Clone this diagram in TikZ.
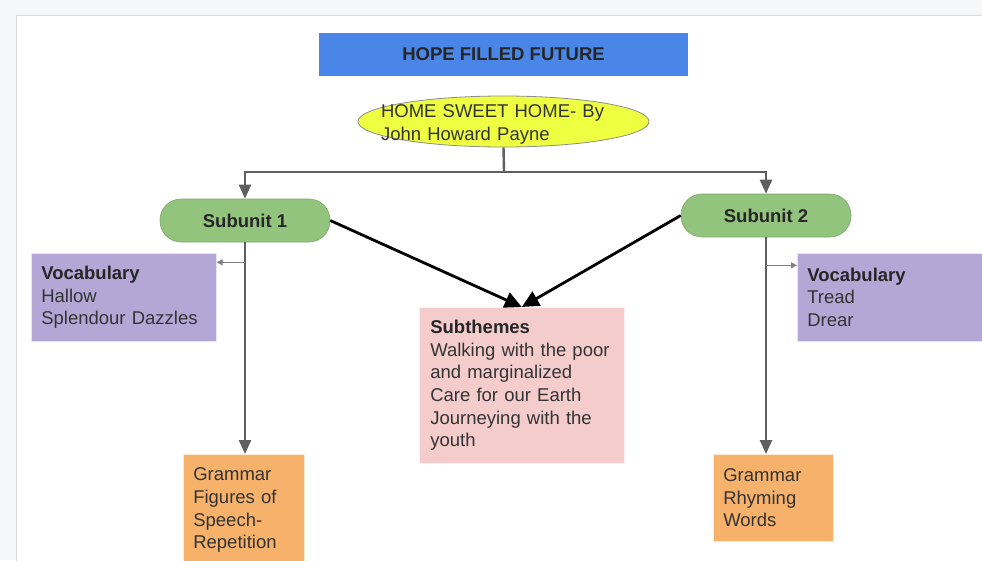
\documentclass[tikz,border=0pt]{standalone}
\usepackage{fontspec}
\setmainfont{Liberation Sans}
\usetikzlibrary{arrows.meta,shapes.geometric}

\definecolor{pagebg}{HTML}{F6F7F9}
\definecolor{pageedge}{HTML}{D9DBDF}
\definecolor{titleblue}{HTML}{4A86E8}
\definecolor{ovalyellow}{HTML}{EEFF41}
\definecolor{pillgreen}{HTML}{93C47D}
\definecolor{lavender}{HTML}{B4A7D6}
\definecolor{rosepink}{HTML}{F4CCCC}
\definecolor{apricot}{HTML}{F6B26B}
\definecolor{linegray}{HTML}{5F5F5F}
\definecolor{textgray}{HTML}{333333}

\begin{document}
\begin{tikzpicture}[x=1pt,y=-1pt,
  every node/.style={font=\fontsize{18.5pt}{22.7pt}\selectfont, text=textgray},
  titlebox/.style={rectangle, fill=titleblue, minimum width=369pt, minimum height=43pt,
    inner sep=0pt, font=\fontsize{18.5pt}{22pt}\selectfont\bfseries, text=black!85},
  oval/.style={ellipse, fill=ovalyellow, draw=black!45, line width=0.8pt,
    minimum width=291pt, minimum height=51pt, inner sep=0pt},
  plaintext/.style={inner sep=0pt, align=left},
  pill/.style={rectangle, rounded corners=21pt, fill=pillgreen, draw=pillgreen!85!black,
    line width=0.6pt, minimum width=170pt, minimum height=43pt, inner sep=0pt,
    font=\fontsize{18.5pt}{22.7pt}\selectfont\bfseries, text=black!85},
  infobox/.style={rectangle, anchor=north west, align=left, inner ysep=0pt,
    inner xsep=10pt, draw=white!70!#1, line width=0.6pt, fill=#1},
  grayline/.style={draw=linegray, line width=2.4pt},
  grayarrow/.style={grayline, -{Triangle[length=14pt,width=12pt]}},
  blackarrow/.style={draw=black, line width=2.8pt, -{Triangle[length=17pt,width=16pt]}},
  thinarrow/.style={draw=gray, line width=1.2pt, -{Triangle[length=6pt,width=6pt]}}
]
\useasboundingbox (0,0) rectangle (982,560);
\clip (0,0) rectangle (982,560);

% canvas and page sheet
\fill[pagebg] (0,0) rectangle (982,560);
\draw[pageedge, fill=white, line width=1pt] (16,15) rectangle (1000,590);

% title and poem
\node[titlebox] (title) at (503.5,54.5) {HOPE FILLED FUTURE};
\node[oval] (home) at (503.5,121.5) {};
\node[plaintext, text width=245pt, yshift=-3pt] (hometext) at (home.center) {HOME SWEET HOME- By\\John Howard Payne};

% subunits
\node[pill] (sub1) at (245,220.5) {Subunit 1};
\node[pill] (sub2) at (766,215.5) {Subunit 2};

% content boxes
\node[infobox=lavender, minimum width=185pt, minimum height=88pt, text width=165pt] (voc1) at (31,253)
  {\textbf{\color{black!85}Vocabulary}\\Hallow\\Splendour Dazzles};
\node[infobox=lavender, minimum width=192pt, minimum height=88pt, text width=172pt] (voc2) at (797,253)
  {\textbf{\color{black!85}Vocabulary}\\Tread\\Drear};
\node[infobox=rosepink, inner xsep=11pt, minimum width=205pt, minimum height=156pt, text width=183pt] (subt) at (419,307)
  {\textbf{\color{black!85}Subthemes}\\Walking with the poor\\and marginalized\\Care for our Earth\\Journeying with the\\youth};
\node[infobox=apricot, minimum width=121pt, minimum height=112pt, text width=101pt] (gram1) at (183,454)
  {Grammar\\Figures of\\Speech-\\Repetition};
\node[infobox=apricot, minimum width=120pt, minimum height=87pt, text width=100pt] (gram2) at (713,454)
  {Grammar\\Rhyming\\Words};

% connectors
\coordinate (bar) at (504,172);
\draw[grayline] (home.south) -- (bar);
\draw[grayarrow] (bar) -| (sub1.north);
\draw[grayarrow] (bar) -| (sub2.north);
\draw[blackarrow] (sub1.east) -- (subt.north);
\draw[blackarrow] (sub2.west) -- (subt.north);
\draw[grayarrow] (sub1.south) -- (sub1.south |- gram1.north);
\draw[grayarrow] (sub2.south) -- (sub2.south |- gram2.north);
\path (sub1.south) ++(0,20) coordinate (tap1);
\path (sub2.south) ++(0,28) coordinate (tap2);
\draw[thinarrow] (tap1) -- (tap1 -| voc1.east);
\draw[thinarrow] (tap2) -- (tap2 -| voc2.west);
\end{tikzpicture}
\end{document}
